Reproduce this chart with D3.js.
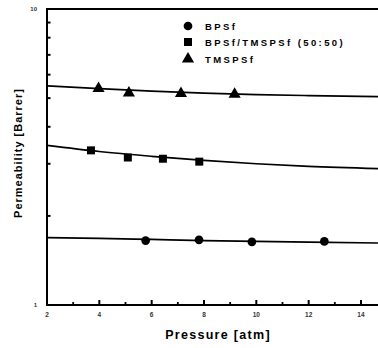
<!DOCTYPE html>
<html><head><meta charset="utf-8">
<script src="https://cdn.jsdelivr.net/npm/d3@7"></script>
<style>
html,body{margin:0;padding:0;background:#fff;}
svg{display:block;font-family:Arial,"Liberation Sans",sans-serif;}
</style></head>
<body><svg id="c" width="378" height="348"></svg>
<script>
// Data
const bpsfP = [5.77, 7.81, 9.83, 12.6];
const bpsfV = [1.65, 1.66, 1.635, 1.64];
const blendP = [3.68, 5.09, 6.43, 7.82];
const blendV = [3.33, 3.15, 3.12, 3.05];
const tmspsfP = [3.97, 5.13, 7.12, 9.17];
const tmspsfV = [5.39, 5.20, 5.18, 5.15];
const fitP = [2, 4, 6, 8, 10, 12, 14.65];
const bpsfFit = [1.69, 1.68, 1.665, 1.65, 1.64, 1.63, 1.62];
const blendFit = [3.46, 3.30, 3.18, 3.08, 3.00, 2.94, 2.89];
const tmspsfFit = [5.50, 5.38, 5.28, 5.20, 5.14, 5.10, 5.06];
const xMajor = [2, 4, 6, 8, 10, 12, 14];
const xMinor = [3, 5, 7, 9, 11, 13];
const yLabels = [1, 10];
const yMinor = [2, 3, 4, 5, 6, 7, 8, 9];
const legendNames = ["BPSf", "BPSf/TMSPSf (50:50)", "TMSPSf"];

const svg = d3.select("#c");
const L = 47, T = 9, B = 305;
const x = d3.scaleLinear().domain([2, 14.65]).range([L, 378]);
const y = d3.scaleLog().domain([1, 10]).range([B, T]);

// axes frame
svg.append("line").attr("x1", L).attr("x2", L).attr("y1", T - 1).attr("y2", B + 1).attr("stroke", "#000").attr("stroke-width", 2);
svg.append("line").attr("x1", L - 1).attr("x2", 378).attr("y1", B).attr("y2", B).attr("stroke", "#000").attr("stroke-width", 2);
svg.append("line").attr("x1", L - 1).attr("x2", 378).attr("y1", T).attr("y2", T).attr("stroke", "#000").attr("stroke-width", 2);

// x ticks (inward)
svg.selectAll(".xmaj").data(xMajor).enter().append("line")
  .attr("x1", d => x(d)).attr("x2", d => x(d)).attr("y1", B).attr("y2", B - 5)
  .attr("stroke", "#000").attr("stroke-width", 2);
svg.selectAll(".xmin").data(xMinor).enter().append("line")
  .attr("x1", d => x(d)).attr("x2", d => x(d)).attr("y1", B).attr("y2", B - 3)
  .attr("stroke", "#000").attr("stroke-width", 1.8);
svg.selectAll(".xl").data(xMajor).enter().append("text")
  .attr("x", d => x(d)).attr("y", B + 12).attr("text-anchor", "middle")
  .attr("font-size", 6.5).attr("font-weight", "bold").attr("fill", "#333").text(d => d);

// y ticks
svg.selectAll(".ymin").data(yMinor).enter().append("line")
  .attr("x1", L).attr("x2", L + 3.5).attr("y1", d => y(d)).attr("y2", d => y(d))
  .attr("stroke", "#000").attr("stroke-width", 2);
svg.selectAll(".yl").data(yLabels).enter().append("text")
  .attr("x", L - 10).attr("y", d => y(d) + 2).attr("text-anchor", "end")
  .attr("font-size", 6).attr("font-weight", "bold").attr("fill", "#333").text(d => d);

// axis titles
svg.append("text").attr("x", 218).attr("y", 339).attr("text-anchor", "middle")
  .attr("font-size", 12.5).attr("font-weight", "bold").attr("letter-spacing", 1.3)
  .text("Pressure [atm]");
svg.append("text").attr("transform", "translate(22,153) rotate(-90)").attr("text-anchor", "middle")
  .attr("font-size", 11).attr("font-weight", "bold").attr("letter-spacing", 1)
  .text("Permeability [Barrer]");

// fit lines
const line = d3.line().x(d => x(d[0])).y(d => y(d[1])).curve(d3.curveMonotoneX);
[bpsfFit, blendFit, tmspsfFit].forEach(f => {
  svg.append("path").attr("d", line(fitP.map((p, i) => [p, f[i]])))
    .attr("fill", "none").attr("stroke", "#000").attr("stroke-width", 1.7);
});

// markers
const sym = [d3.symbolCircle, d3.symbolSquare, d3.symbolTriangle];
const sizes = [60, 64, 64];
const sets = [[bpsfP, bpsfV], [blendP, blendV], [tmspsfP, tmspsfV]];
sets.forEach((s, k) => {
  svg.selectAll(".m" + k).data(s[0]).enter().append("path")
    .attr("d", d3.symbol().type(sym[k]).size(sizes[k]))
    .attr("transform", (d, i) => `translate(${x(d)},${y(s[1][i])})`)
    .attr("fill", "#000");
});

// legend
const ly = [26, 42, 59];
legendNames.forEach((n, k) => {
  svg.append("path").attr("d", d3.symbol().type(sym[k]).size(sizes[k]))
    .attr("transform", `translate(188,${ly[k]})`).attr("fill", "#000");
  svg.append("text").attr("x", 205).attr("y", ly[k] + 3.5)
    .attr("font-size", 9.5).attr("font-weight", "bold").attr("letter-spacing", 2.4)
    .text(n);
});
</script></body></html>
